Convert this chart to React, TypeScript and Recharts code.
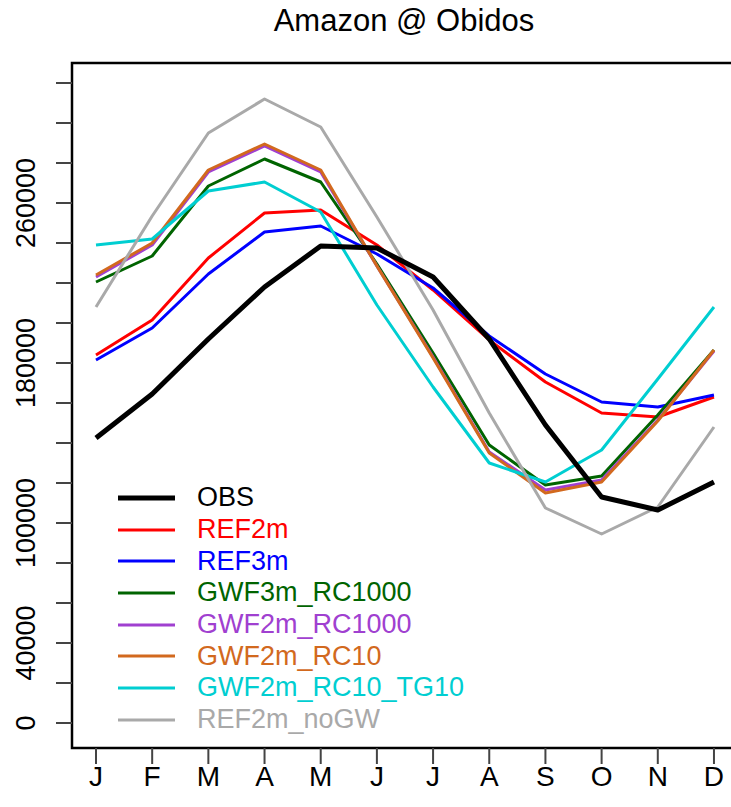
import React from 'react';
import { LineChart, Line, XAxis, YAxis, ReferenceArea } from 'recharts';

const MONTHS = ['J', 'F', 'M', 'A', 'M', 'J', 'J', 'A', 'S', 'O', 'N', 'D'];

const OBS = [142500, 164500, 192000, 218000, 238500, 237500, 223000, 192000, 149000, 113000, 106500, 120500];
const REF2M = [184000, 201500, 232500, 255000, 256500, 239000, 216500, 191500, 170500, 155000, 153000, 163000];
const REF3M = [181500, 197500, 224500, 245500, 248500, 234500, 217500, 193500, 174500, 160500, 158000, 164000];
const GWF3M_RC1000 = [220500, 233500, 268500, 282000, 270500, 229500, 185000, 139000, 119000, 123500, 154000, 186500];
const GWF2M_RC1000 = [223000, 239000, 275500, 288500, 275500, 228500, 183000, 135500, 116500, 121500, 151500, 186000];
const GWF2M_RC10 = [224000, 240000, 276500, 289500, 276500, 228500, 182500, 135000, 115000, 120500, 151000, 186500];
const GWF2M_RC10_TG10 = [239000, 242000, 266000, 270500, 255500, 209000, 168000, 130000, 120500, 136500, 172000, 208000];
const REF2M_NOGW = [208000, 253500, 295000, 312000, 298000, 253000, 206500, 155000, 107500, 94500, 108000, 148000];

const Y_TICKS = [0, 20000, 40000, 60000, 80000, 100000, 120000, 140000, 160000, 180000, 200000, 220000, 240000, 260000, 280000, 300000, 320000];
// R dropped the overlapping ones, only these got printed
const Y_LABELS = [0, 40000, 100000, 180000, 260000];

// legend order
const SERIES = [
  { name: 'OBS', values: OBS, color: '#000000', width: 5 },
  { name: 'REF2m', values: REF2M, color: '#FF0000', width: 3 },
  { name: 'REF3m', values: REF3M, color: '#0000FF', width: 3 },
  { name: 'GWF3m_RC1000', values: GWF3M_RC1000, color: '#006400', width: 3 },
  { name: 'GWF2m_RC1000', values: GWF2M_RC1000, color: '#A040D0', width: 3 },
  { name: 'GWF2m_RC10', values: GWF2M_RC10, color: '#D2691E', width: 3 },
  { name: 'GWF2m_RC10_TG10', values: GWF2M_RC10_TG10, color: '#00CED1', width: 3 },
  { name: 'REF2m_noGW', values: REF2M_NOGW, color: '#A9A9A9', width: 3 },
];

// models first, OBS on top
const DRAW_ORDER = [...SERIES.slice(1), SERIES[0]];

const data = MONTHS.map((label, i) => {
  const row: Record<string, number | string> = { m: i + 1, label };
  SERIES.forEach((s) => {
    row[s.name] = s.values[i];
  });
  return row;
});

const FONT = '"Liberation Sans", Arial, Helvetica, sans-serif';

// plot box runs a bit past the right edge of the picture
const X_DOMAIN = [0.5728, 12.41];
const Y_DOMAIN = [-12500, 330000];

const YTick = (props: any) => {
  const { x, y, payload } = props;
  if (!Y_LABELS.includes(payload.value)) return null;
  const cx = x - 28;
  return (
    <text
      x={cx}
      y={y}
      transform={`rotate(-90, ${cx}, ${y})`}
      textAnchor="middle"
      dominantBaseline="central"
      fontSize={27}
      fontFamily={FONT}
      fill="#000"
    >
      {payload.value}
    </text>
  );
};

const XTick = (props: any) => {
  const { x, y, payload } = props;
  return (
    <text x={x} y={y + 20} textAnchor="middle" fontSize={28} fontFamily={FONT} fill="#000">
      {MONTHS[payload.value - 1]}
    </text>
  );
};

const LegendBox = () => (
  <div style={{ position: 'absolute', left: 118, top: 482, fontFamily: FONT }}>
    {SERIES.map((s) => (
      <div key={s.name} style={{ display: 'flex', alignItems: 'center', height: 31.7 }}>
        <svg width={57} height={10} style={{ display: 'block' }}>
          <line x1={0} y1={5} x2={57} y2={5} stroke={s.color} strokeWidth={s.width} />
        </svg>
        <span style={{ marginLeft: 22, fontSize: 27, color: s.color, lineHeight: '31px' }}>{s.name}</span>
      </div>
    ))}
  </div>
);

export default function App() {
  return (
    <div style={{ position: 'absolute', left: 0, top: 0, width: 731, height: 807, background: '#fff', overflow: 'hidden' }}>
      <div
        style={{
          position: 'absolute',
          left: 0,
          width: 808,
          top: 3,
          textAlign: 'center',
          fontFamily: FONT,
          fontSize: 31,
          color: '#000',
        }}
      >
        Amazon @ Obidos
      </div>
      <LineChart width={737} height={807} data={data} margin={{ top: 63, right: 0, bottom: 0, left: 0 }}>
        <XAxis
          dataKey="m"
          type="number"
          domain={X_DOMAIN}
          ticks={[1, 2, 3, 4, 5, 6, 7, 8, 9, 10, 11, 12]}
          allowDataOverflow
          height={59}
          axisLine={false}
          tickLine={{ stroke: '#444', strokeWidth: 2 }}
          tickSize={16}
          tick={<XTick />}
        />
        <YAxis
          type="number"
          domain={Y_DOMAIN}
          ticks={Y_TICKS}
          allowDataOverflow
          width={72}
          axisLine={false}
          tickLine={{ stroke: '#444', strokeWidth: 2 }}
          tickSize={16}
          tick={<YTick />}
        />
        <ReferenceArea
          x1={X_DOMAIN[0]}
          x2={X_DOMAIN[1]}
          y1={Y_DOMAIN[0]}
          y2={Y_DOMAIN[1]}
          fill="none"
          fillOpacity={0}
          stroke="#000"
          strokeWidth={2.5}
          ifOverflow="visible"
        />
        {DRAW_ORDER.map((s) => (
          <Line
            key={s.name}
            type="linear"
            dataKey={s.name}
            stroke={s.color}
            strokeWidth={s.width}
            dot={false}
            activeDot={false}
            strokeLinejoin="round"
            isAnimationActive={false}
          />
        ))}
      </LineChart>
      <LegendBox />
    </div>
  );
}
